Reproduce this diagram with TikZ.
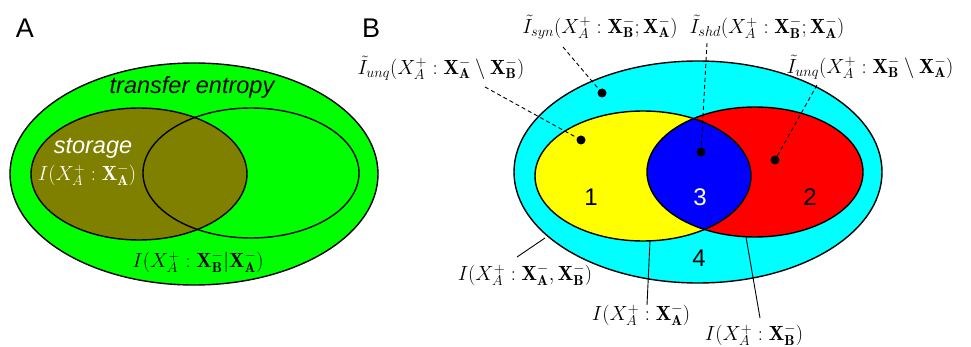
\RequirePackage{fix-cm}
\documentclass[tikz,border=0pt]{standalone}
\usepackage{fontspec}
\newfontfamily\lsans{Liberation Sans}
\definecolor{olv}{RGB}{128,128,0}
\definecolor{gr}{RGB}{0,255,0}
\definecolor{cy}{RGB}{0,255,255}
\definecolor{ye}{RGB}{255,255,0}
\definecolor{rd}{RGB}{255,0,0}
\definecolor{bl}{RGB}{0,0,255}
\newcommand\XA{\mathbf{X}_{\mathbf{A}}^-}
\newcommand\XB{\mathbf{X}_{\mathbf{B}}^-}
\begin{document}
\begin{tikzpicture}[x=1pt,y=-1pt,
  outl/.style={draw=black, line width=1.4pt},
  lab/.style={font=\fontsize{20.5}{23}\selectfont, inner sep=0pt},
  sflab/.style={font=\lsans\itshape\fontsize{23.5}{26}\selectfont, inner sep=0pt},
  num/.style={font=\lsans\fontsize{24}{26}\selectfont, inner sep=0pt},
  panel/.style={font=\lsans\fontsize{27}{30}\selectfont, inner sep=0pt},
  dot/.style={circle, fill=black, inner sep=0pt, minimum size=9pt},
  lead/.style={line width=0.9pt},
  dlead/.style={line width=0.9pt, dash pattern=on 4pt off 3pt}]
\useasboundingbox (0,0) rectangle (971,347);
\fill[white] (0,0) rectangle (971,347);
% ---------- panel A ----------
\node[panel] (pA) at (25,28) {A};
\fill[gr] (194,174) ellipse [x radius=184pt, y radius=111pt];
\fill[olv] (139,174) ellipse [x radius=108pt, y radius=66pt];
\draw[outl] (194,174) ellipse [x radius=184pt, y radius=111pt];
\draw[outl] (139,174) ellipse [x radius=108pt, y radius=66pt];
\draw[outl] (251,173) ellipse [x radius=108pt, y radius=65pt];
\node[sflab] (te) at (192,87) {transfer entropy};
\node[sflab, text=white] (st) at (93,148) {storage};
\node[lab, text=white] (ais) at (87,175) {$I(X_A^+ : \XA)$};
\node[lab] (cte) at (198,262) {$I(X_A^+ : \XB | \XA)$};
% ---------- panel B ----------
\node[panel] (pB) at (371,28) {B};
\fill[cy] (698,172) ellipse [x radius=184pt, y radius=111pt];
\fill[ye] (643,176) ellipse [x radius=108pt, y radius=65pt];
\fill[rd] (755,172) ellipse [x radius=108pt, y radius=65pt];
\begin{scope}
  \clip (643,176) ellipse [x radius=108pt, y radius=65pt];
  \fill[bl] (755,172) ellipse [x radius=108pt, y radius=65pt];
\end{scope}
\draw[outl] (698,172) ellipse [x radius=184pt, y radius=111pt];
\draw[outl] (643,176) ellipse [x radius=108pt, y radius=65pt];
\draw[outl] (755,172) ellipse [x radius=108pt, y radius=65pt];
\node[num] (n1) at (591,197) {1};
\node[num, text=white] (n3) at (700,197) {3};
\node[num] (n2) at (810,197) {2};
\node[num] (n4) at (699,258) {4};
% dots
\node[dot] (dsyn) at (602,93) {};
\node[dot] (dunqA) at (581,140) {};
\node[dot] (dshd) at (701,152) {};
\node[dot] (dunqB) at (775,160) {};
% labels with dashed leaders
\node[lab] (lunqA) at (441,68) {$\tilde{I}_{unq}(X_A^+ : \XA \setminus \XB)$};
\node[lab] (lsyn) at (600,27) {$\tilde{I}_{syn}(X_A^+ : \XB ; \XA)$};
\node[lab] (lshd) at (767,27) {$\tilde{I}_{shd}(X_A^+ : \XB ; \XA)$};
\node[lab] (lunqB) at (870,67) {$\tilde{I}_{unq}(X_A^+ : \XB \setminus \XA)$};
\coordinate (sunqA) at (485,87);
\coordinate (ssyn) at (563,47);
\coordinate (sshd) at (707,43);
\coordinate (sunqB) at (817,85);
\draw[dlead] (sunqA) -- (dunqA.center);
\draw[dlead] (ssyn) -- (dsyn.center);
\draw[dlead] (sshd) -- (dshd.center);
\draw[dlead] (sunqB) -- (dunqB.center);
% labels with solid leaders
\node[lab] (lAB) at (525,275) {$I(X_A^+ : \mathbf{X}_{\mathbf{A}}^-, \XB)$};
\node[lab] (lA) at (641,315) {$I(X_A^+ : \XA)$};
\node[lab] (lB) at (754,335) {$I(X_A^+ : \XB)$};
\coordinate (sAB) at (517,257);
\coordinate (eAB) at (545,238);
\coordinate (sA) at (647,305);
\coordinate (eA) at (650,241);
\coordinate (sB) at (760,318);
\coordinate (eB) at (746,237);
\draw[lead] (sAB) -- (eAB);
\draw[lead] (sA) -- (eA);
\draw[lead] (sB) -- (eB);
\end{tikzpicture}
\end{document}
